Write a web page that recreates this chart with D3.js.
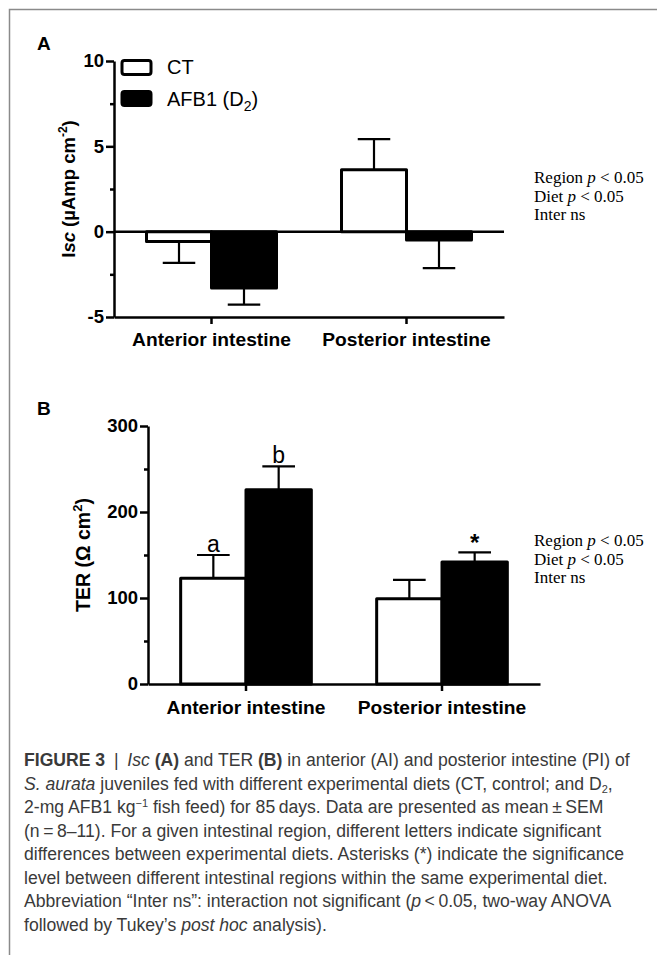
<!DOCTYPE html>
<html>
<head>
<meta charset="utf-8">
<script src="https://cdn.jsdelivr.net/npm/d3@7"></script>
<style>
  body { margin: 0; background: #fff; }
  svg { display: block; }
  .axis path, .axis line { stroke: #000; stroke-width: 2.5; }
  .axis text { font-family: "Liberation Sans", Arial, sans-serif; font-weight: bold; font-size: 18.5px; fill: #000; }
  .xaxis text { font-size: 19.2px; }
  .stats { font-family: "Liberation Serif", "Times New Roman", serif; font-size: 17px; }
  .caption { font-family: "Liberation Sans", Arial, sans-serif; font-size: 17.6px; fill: #3a3a3a; }
</style>
</head>
<body>
<svg id="fig" width="657" height="955"></svg>
<script>
// data
var regions = ["Anterior intestine", "Posterior intestine"];
var diets = ["CT", "AFB1"];

var iscCT = [-0.57, 3.63];
var iscCTsem = [1.26, 1.79];
var iscAFB = [-3.3, -0.49];
var iscAFBsem = [0.97, 1.65];

var terCT = [123, 99];
var terCTsem = [27, 22];
var terAFB = [226, 142];
var terAFBsem = [27, 11];
var terCTmark = ["a", ""];
var terAFBmark = ["b", "*"];

var iscTicks = [-5, 0, 5, 10];
var iscMinor = [-2.5, 2.5, 7.5];
var terTicks = [0, 100, 200, 300];
var terMinor = [50, 150, 250];

var statsLines = [["Region ", "p", " < 0.05"], ["Diet ", "p", " < 0.05"], ["Inter ns", "", ""]];

var svg = d3.select("#fig");

// frame
svg.append("path").attr("d", "M657,9.5H9.5V955")
  .attr("fill", "none").attr("stroke", "#8a8a8a").attr("stroke-width", 1.5);

function rows(ct, ctSem, afb, afbSem, ctMark, afbMark) {
  var out = [];
  regions.forEach(function(r, i) {
    out.push({region: r, diet: "CT", v: ct[i], sem: ctSem[i], mark: ctMark ? ctMark[i] : ""});
    out.push({region: r, diet: "AFB1", v: afb[i], sem: afbSem[i], mark: afbMark ? afbMark[i] : ""});
  });
  return out;
}

function drawPanel(opt) {
  var g = svg.append("g");
  var x0 = d3.scaleBand().domain(regions).range([opt.left, opt.right])
    .paddingInner(1/3).paddingOuter(1/6);
  var x1 = d3.scaleBand().domain(diets).range([0, x0.bandwidth()]);
  var y = d3.scaleLinear().domain(opt.domain).range([opt.bottom, opt.top]);

  // y axis (plain hyphen for negatives, like the original)
  g.append("g").attr("class", "axis")
    .attr("transform", "translate(" + opt.left + ",0)")
    .call(d3.axisLeft(y).tickValues(opt.ticks).tickSize(8).tickSizeOuter(0).tickPadding(2)
      .tickFormat(function(d) { return String(d); }));
  g.append("g").attr("class", "axis")
    .attr("transform", "translate(" + opt.left + ",0)")
    .call(d3.axisLeft(y).tickValues(opt.minor).tickSize(4).tickSizeOuter(0).tickFormat(""))
    .select(".domain").remove();

  // x axis at the bottom
  g.append("g").attr("class", "axis xaxis")
    .attr("transform", "translate(0," + opt.bottom + ")")
    .call(d3.axisBottom(x0).tickSize(7).tickSizeOuter(0).tickPadding(opt.xpad));

  if (opt.domain[0] < 0) {
    g.append("line").attr("x1", opt.left).attr("x2", opt.right)
      .attr("y1", y(0)).attr("y2", y(0))
      .attr("stroke", "#000").attr("stroke-width", 2.5);
  }

  var data = opt.data;
  var cx = function(d) { return x0(d.region) + x1(d.diet) + x1.bandwidth() / 2; };
  var tip = function(d) { return d.v >= 0 ? d.v + d.sem : d.v - d.sem; };

  // error bars (one-sided)
  var eb = g.selectAll(".err").data(data).enter().append("g").attr("class", "err")
    .attr("stroke", "#000").attr("stroke-width", 2.2);
  eb.append("line").attr("x1", cx).attr("x2", cx)
    .attr("y1", function(d) { return y(d.v); }).attr("y2", function(d) { return y(tip(d)); });
  eb.append("line")
    .attr("x1", function(d) { return cx(d) - x1.bandwidth() / 4; })
    .attr("x2", function(d) { return cx(d) + x1.bandwidth() / 4; })
    .attr("y1", function(d) { return y(tip(d)); }).attr("y2", function(d) { return y(tip(d)); });

  g.selectAll(".bar").data(data).enter().append("rect").attr("class", "bar")
    .attr("x", function(d) { return x0(d.region) + x1(d.diet); })
    .attr("width", x1.bandwidth())
    .attr("y", function(d) { return y(Math.max(0, d.v)); })
    .attr("height", function(d) { return Math.abs(y(d.v) - y(0)); })
    .attr("fill", function(d) { return d.diet == "CT" ? "#fff" : "#000"; })
    .attr("stroke", "#000").attr("stroke-width", 3).attr("stroke-linejoin", "round");

  // significance marks
  g.selectAll(".mark").data(data.filter(function(d) { return d.mark; })).enter().append("text")
    .attr("x", cx).attr("y", function(d) { return y(tip(d)) - (d.mark == "*" ? 1 : 3); })
    .attr("text-anchor", "middle")
    .attr("font-family", "Liberation Sans, Arial, sans-serif")
    .attr("font-size", function(d) { return d.mark == "*" ? 24 : 23; })
    .attr("font-weight", function(d) { return d.mark == "*" ? "bold" : "normal"; })
    .text(function(d) { return d.mark; });

  // panel letter
  svg.append("text").attr("x", 37).attr("y", opt.letterY)
    .attr("font-family", "Liberation Sans, Arial, sans-serif")
    .attr("font-weight", "bold").attr("font-size", 19).text(opt.letter);

  // y label
  var yl = svg.append("text")
    .attr("transform", "translate(" + opt.ylabX + "," + ((opt.top + opt.bottom) / 2) + ") rotate(-90)")
    .attr("text-anchor", "middle")
    .attr("font-family", "Liberation Sans, Arial, sans-serif")
    .attr("font-weight", "bold").attr("font-size", opt.ylabSize);
  opt.ylabel(yl);

  // stats
  var st = svg.append("text").attr("class", "stats");
  statsLines.forEach(function(l, i) {
    var t = st.append("tspan").attr("x", 534).attr("y", opt.statsY + i * 18.5);
    t.append("tspan").text(l[0]);
    if (l[1]) t.append("tspan").attr("font-style", "italic").text(l[1]);
    if (l[2]) t.append("tspan").text(l[2]);
  });
}

drawPanel({
  letter: "A", letterY: 50,
  left: 114, right: 504, top: 61, bottom: 317,
  domain: [-5, 10], ticks: iscTicks, minor: iscMinor, xpad: 8,
  data: rows(iscCT, iscCTsem, iscAFB, iscAFBsem),
  ylabX: 75, ylabSize: 18.5, statsY: 183,
  ylabel: function(t) {
    t.append("tspan").text("I");
    t.append("tspan").attr("font-style", "italic").text("sc");
    t.append("tspan").text(" (\u00b5Amp cm");
    t.append("tspan").attr("font-size", 12).attr("dy", -8).text("-2");
    t.append("tspan").attr("dy", 8).text(")");
  }
});

drawPanel({
  letter: "B", letterY: 415,
  left: 148, right: 540, top: 426, bottom: 684,
  domain: [0, 300], ticks: terTicks, minor: terMinor, xpad: 9,
  data: rows(terCT, terCTsem, terAFB, terAFBsem, terCTmark, terAFBmark),
  ylabX: 90, ylabSize: 19.5, statsY: 546,
  ylabel: function(t) {
    t.append("tspan").text("TER (\u03a9 cm");
    t.append("tspan").attr("font-size", 13).attr("dy", -8).text("2");
    t.append("tspan").attr("dy", 8).text(")");
  }
});

// legend
var legend = svg.append("g").attr("font-family", "Liberation Sans, Arial, sans-serif").attr("font-size", 20);
[["#fff", 60.5, 74], ["#000", 91.5, 106]].forEach(function(l, i) {
  legend.append("rect").attr("x", 122).attr("y", l[1]).attr("width", 29).attr("height", 14)
    .attr("rx", 2.5).attr("fill", l[0]).attr("stroke", "#000").attr("stroke-width", 3);
  var t = legend.append("text").attr("x", 167).attr("y", l[2]);
  if (i == 0) t.text("CT");
  else {
    t.append("tspan").text("AFB1 (D");
    t.append("tspan").attr("font-size", 14).attr("dy", 5).text("2");
    t.append("tspan").attr("dy", -5).text(")");
  }
});

// caption
var capLines = [
  [["FIGURE 3", "b"], ["\u2002|\u2002", ""], ["Isc", "i"], [" ", ""], ["(A)", "b"], [" and TER ", ""], ["(B)", "b"], [" in anterior (AI) and posterior intestine (PI) of", ""]],
  [["S. aurata", "i"], [" juveniles fed with different experimental diets (CT, control; and D", ""], ["2", "sub"], [",", ""]],
  [["2-mg AFB1 kg", ""], ["\u22121", "sup"], [" fish feed) for 85\u2009days. Data are presented as mean\u2009\u00b1\u2009SEM", ""]],
  [["(n\u2009=\u20098\u201311). For a given intestinal region, different letters indicate significant", ""]],
  [["differences between experimental diets. Asterisks (*) indicate the significance", ""]],
  [["level between different intestinal regions within the same experimental diet.", ""]],
  [["Abbreviation \u201cInter ns\u201d: interaction not significant (", ""], ["p", "i"], ["\u2009<\u20090.05, two-way ANOVA", ""]],
  [["followed by Tukey\u2019s ", ""], ["post hoc", "i"], [" analysis).", ""]]
];
var cap = svg.append("text").attr("class", "caption");
capLines.forEach(function(line, i) {
  var row = cap.append("tspan").attr("x", 24).attr("y", 766 + i * 23.5);
  var back = 0;
  line.forEach(function(seg) {
    var s = row.append("tspan").text(seg[0]);
    if (back) { s.attr("dy", back); back = 0; }
    if (seg[1] == "b") s.attr("font-weight", "bold");
    if (seg[1] == "i") s.attr("font-style", "italic");
    if (seg[1] == "sub") { s.attr("font-size", 11).attr("dy", 3); back = -3; }
    if (seg[1] == "sup") { s.attr("font-size", 11).attr("dy", -6); back = 6; }
  });
});
</script>
</body>
</html>
